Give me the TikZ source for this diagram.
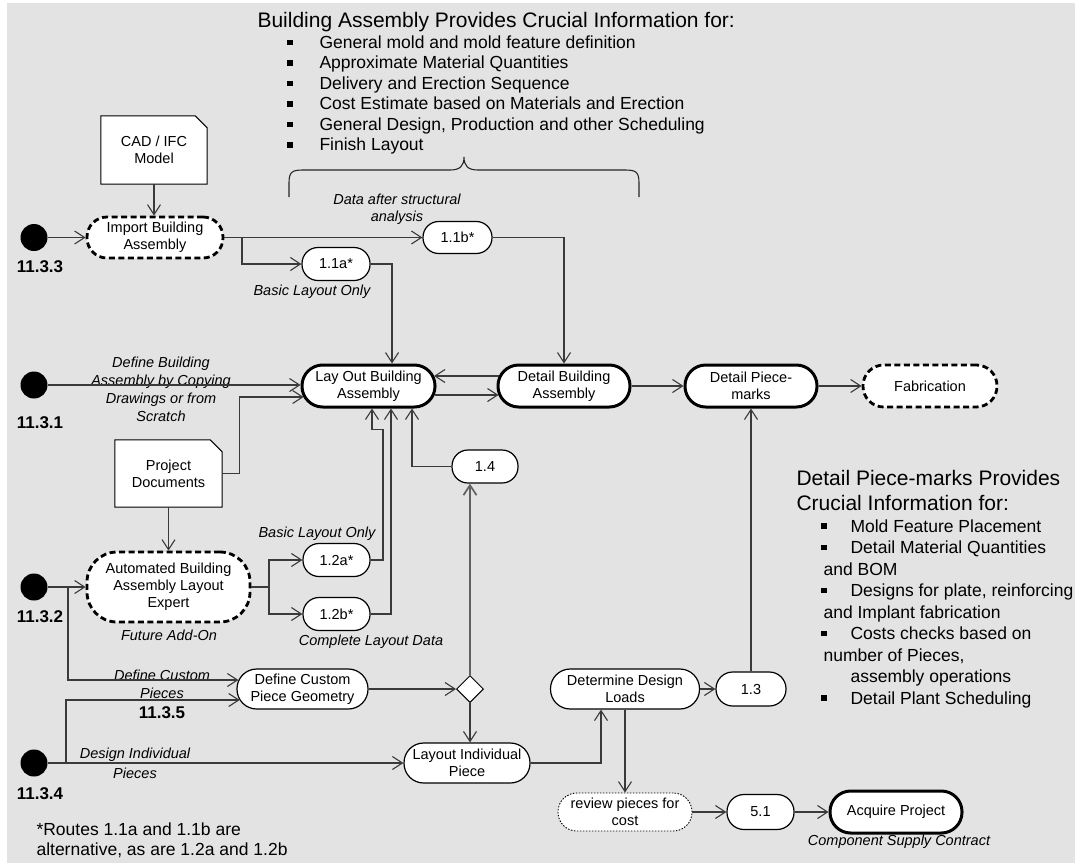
\documentclass[tikz,border=0pt]{standalone}
\usepackage{fontspec}
\setmainfont{Liberation Sans}
\usetikzlibrary{arrows.meta,calc,shapes.geometric}
\pgfdeclarelayer{back}
\pgfdeclarelayer{mid}
\pgfsetlayers{back,mid,main}
\definecolor{bgc}{HTML}{E3E3E3}
\definecolor{linec}{HTML}{3A3A3A}
\begin{document}
\begin{tikzpicture}[x=1pt,y=-1pt,
  nf/.style={font=\fontsize{14.5}{17}\selectfont, align=center},
  box/.style n args={3}{nf, rectangle, draw=black, fill=white, line width=1.2pt,
      minimum width=#1pt, minimum height=#2pt, rounded corners=#3pt, inner sep=0pt},
  heavy/.style={line width=3pt},
  dashy/.style={line width=2.8pt, dash pattern=on 6pt off 3.5pt},
  dotty/.style={line width=0.9pt, dash pattern=on 1.5pt off 1.5pt},
  notebox/.style 2 args={nf, minimum width=#1pt, minimum height=#2pt, inner sep=0pt},
  noteline/.style={fill=white, draw=black, line width=1pt},
  startdot/.style={circle, fill=black, minimum size=27pt, inner sep=0pt},
  decision/.style={diamond, draw=black, fill=white, line width=1pt, minimum width=27pt, minimum height=27pt, inner sep=0pt},
  lbl/.style={font=\fontsize{17}{20}\selectfont\bfseries},
  lab/.style={font=\fontsize{14.5}{18}\selectfont\itshape, align=center},
  conn/.style={draw=linec, line width=1.1pt, -{Straight Barb[length=10pt,width=13pt]}},
  plain/.style={draw=linec, line width=1.1pt},
  ttl/.style={anchor=base west, font=\fontsize{21}{25}\selectfont},
  blt/.style={anchor=base west, font=\fontsize{17.5}{21}\selectfont},
  sq/.style={fill=black, minimum size=5.5pt, inner sep=0pt}
]
\useasboundingbox (0,0) rectangle (1075,863);
\begin{pgfonlayer}{back}
\fill[bgc] (7,3) rectangle (1075,863);
\end{pgfonlayer}

% ---------- top text block ----------
\node[ttl] (tt) at (254,27.5) {Building Assembly Provides Crucial Information for:};
\node[blt] (tb1) at (316,48.3) {General mold and mold feature definition};
\node[blt] (tb2) at (316,68.8) {Approximate Material Quantities};
\node[blt] (tb3) at (316,89.3) {Delivery and Erection Sequence};
\node[blt] (tb4) at (316,109.8) {Cost Estimate based on Materials and Erection};
\node[blt] (tb5) at (316,130.3) {General Design, Production and other Scheduling};
\node[blt] (tb6) at (316,150.8) {Finish Layout};
\node[sq] (ts1) at (290,42.3) {};
\node[sq] (ts2) at (290,62.8) {};
\node[sq] (ts3) at (290,83.3) {};
\node[sq] (ts4) at (290,103.8) {};
\node[sq] (ts5) at (290,124.3) {};
\node[sq] (ts6) at (290,144.8) {};
\draw[line width=1.1pt, black!85] (289,197) -- (289,183) .. controls (289,172) and (292,170) .. (303,170)
  -- (450,170) .. controls (460,170) and (464,166) .. (464,157)
  .. controls (464,166) and (468,170) .. (478,170) -- (625,170)
  .. controls (636,170) and (639,172) .. (639,183) -- (639,197);

% ---------- right text block ----------
\node[ttl] (rt1) at (793,485.5) {Detail Piece-marks Provides};
\node[ttl] (rt2) at (793,510.5) {Crucial Information for:};
\node[blt] (rb1) at (847,532.4) {Mold Feature Placement};
\node[blt] (rb2) at (847,553.9) {Detail Material Quantities};
\node[blt] (rb3) at (820,575.4) {and BOM};
\node[blt] (rb4) at (847,596.9) {Designs for plate, reinforcing};
\node[blt] (rb5) at (820,618.4) {and Implant fabrication};
\node[blt] (rb6) at (847,639.9) {Costs checks based on};
\node[blt] (rb7) at (820,661.4) {number of Pieces,};
\node[blt] (rb8) at (847,682.9) {assembly operations};
\node[blt] (rb9) at (847,704.4) {Detail Plant Scheduling};
\node[sq] (rs1) at (824,526) {};
\node[sq] (rs2) at (824,547.5) {};
\node[sq] (rs3) at (824,590.5) {};
\node[sq] (rs4) at (824,633.5) {};
\node[sq] (rs5) at (824,698) {};

% ---------- footnote ----------
\node[blt] (fn1) at (33,835) {*Routes 1.1a and 1.1b are};
\node[blt] (fn2) at (33,855.5) {alternative, as are 1.2a and 1.2b};

% ---------- start points ----------
\node[startdot] (c3) at (34,237.5) {};
\node[lbl] (l3) at (40,267) {11.3.3};
\node[startdot] (c1) at (34,385) {};
\node[lbl] (l1) at (40,423) {11.3.1};
\node[startdot] (c2) at (34,587) {};
\node[lbl] (l2) at (40,617) {11.3.2};
\node[startdot] (c4) at (34,763) {};
\node[lbl] (l4) at (40,794) {11.3.4};

% ---------- notes ----------
\node[notebox={106}{68}] (cad) at (154,150) {CAD / IFC\\Model};
\node[notebox={107}{67}] (pd) at (168.5,473.5) {Project\\Documents};
\begin{pgfonlayer}{mid}
\draw[noteline] (cad.north west) -- ($(cad.north east)+(-12,0)$) -- ($(cad.north east)+(0,12)$)
  -- (cad.south east) -- (cad.south west) -- cycle;
\draw[noteline] (pd.north west) -- ($(pd.north east)+(-12,0)$) -- ($(pd.north east)+(0,12)$)
  -- (pd.south east) -- (pd.south west) -- cycle;
\end{pgfonlayer}

% ---------- activity nodes ----------
\node[box={136}{41}{20}, dashy] (imp) at (155,237.5) {Import Building\\Assembly};
\node[box={68}{33}{16}] (a11) at (336,264) {1.1a*};
\node[box={69}{32}{15.7}] (b11) at (457.5,237.5) {1.1b*};
\node[box={133}{42}{20.7}, heavy] (lay) at (368.5,386) {Lay Out Building\\Assembly};
\node[box={132}{42}{20.7}, heavy] (dba) at (564,386) {Detail Building\\Assembly};
\node[box={132}{42}{20.7}, heavy] (dpm) at (751,386) {Detail Piece-\\marks};
\node[box={134}{42}{20.7}, dashy] (fab) at (930,386) {Fabrication};
\node[box={66}{33}{16}] (n14) at (485,466.5) {1.4};
\node[box={163}{70}{30}, dashy] (auto) at (168.5,587) {Automated Building\\Assembly Layout\\Expert};
\node[box={67}{33}{16}] (a12) at (336.5,560) {1.2a*};
\node[box={67}{33}{16}] (b12) at (336.5,614) {1.2b*};
\node[box={131}{40}{19.7}] (dcp) at (302.5,689) {Define Custom\\Piece Geometry};
\node[decision] (dec) at (470,689) {};
\node[box={149}{40}{19.7}] (ddl) at (625,689) {Determine Design\\Loads};
\node[box={70}{34}{16.7}] (n13) at (751,689) {1.3};
\node[box={126}{40}{19.7}] (lip) at (467,763) {Layout Individual\\Piece};
\node[box={134}{38}{18.7}, dotty] (rev) at (625,812) {review pieces for\\cost};
\node[box={67}{35}{17}] (n51) at (760.5,812) {5.1};
\node[box={132}{42}{20.7}, heavy] (acq) at (896,812) {Acquire Project};

% ---------- labels ----------
\node[lab, font=\fontsize{14.5}{17}\selectfont\itshape] (lbData) at (397,209.5) {Data after structural\\analysis};
\node[lab] (lbBas1) at (312,292) {Basic Layout Only};
\node[lab] (lbDef) at (161,389) {Define Building\\Assembly by Copying\\Drawings or from\\Scratch};
\node[lab] (lbBas2) at (317,534) {Basic Layout Only};
\node[lab] (lbComp) at (371,642) {Complete Layout Data};
\node[lab] (lbFut) at (169,635) {Future Add-On};
\node[lab] (lbDC) at (162,684) {Define Custom\\Pieces};
\node[lbl] (l5) at (162,713) {11.3.5};
\node[lab, font=\fontsize{14.5}{20}\selectfont\itshape] (lbDI) at (135,763) {Design Individual\\Pieces};
\node[lab] (lbCSC) at (899,842) {Component Supply Contract};

% ---------- connectors ----------
\coordinate (br1) at (242,237.5);
\coordinate (br2) at (269,587);
\coordinate (br3) at (68,587);
\coordinate (br5) at (66,763);

\draw[conn] (cad.south) -- (cad.south |- imp.north);
\draw[conn] (c3.east) -- (imp.west);
\draw[conn] (imp.east) -- (b11.west);
\draw[conn] (br1) |- (a11.west);
\draw[conn] (a11.east) -| ($(lay.north)+(23.5,0)$);
\draw[conn] (b11.east) -| (dba.north);
\draw[conn] ($(dba.west)+(2.5,-10)$) -- ($(lay.east)+(-2.5,-10)$);
\draw[conn] ($(lay.east)+(-2,9)$) -- ($(dba.west)+(2,9)$);
\draw[conn] (dba.east) -- (dpm.west);
\draw[conn] (dpm.east) -- (fab.west);
\draw[conn] (c1.east) -- (c1.east -| lay.west);
\draw[conn] (pd.east) -| ($(lay.west)+(-61,11)$) -- ($(lay.west)+(3.1,11)$);
\draw[conn] (pd.south) -- (auto.north);
\draw[conn] (c2.east) -- (auto.west);
\draw[plain] (auto.east) -- (br2);
\draw[conn] (br2) |- (a12.west);
\draw[conn] (br2) |- (b12.west);
\draw[conn] (a12.east) -| ($(lay.south)+(14.5,21)$) -| ($(lay.south)+(3.5,0)$);
\draw[conn] (b12.east) -| ($(lay.south)+(22.5,0)$);
\draw[conn] (n14.west) -| ($(lay.south)+(43.5,0)$);
\draw[conn, draw=black!62, line width=1.7pt] (dec.north) -- (dec.north |- n14.south);
\draw[conn] (br3) |- ($(dcp.west)+(2,-9)$);
\draw[conn] (br5) |- ($(dcp.west)+(3.3,11)$);
\draw[conn] (c4.east) -- (lip.west);
\draw[conn] (dcp.east) -- (dec.west);
\draw[conn] (dec.south) -- (dec.south |- lip.north);
\draw[conn] (lip.east) -| ($(ddl.south)+(-24,0)$);
\draw[conn] (ddl.east) -- (n13.west);
\draw[conn] (n13.north) -- (dpm.south);
\draw[conn] (ddl.south) -- (rev.north);
\draw[conn] (rev.east) -- (n51.west);
\draw[conn] (n51.east) -- (acq.west);
\end{tikzpicture}
\end{document}
